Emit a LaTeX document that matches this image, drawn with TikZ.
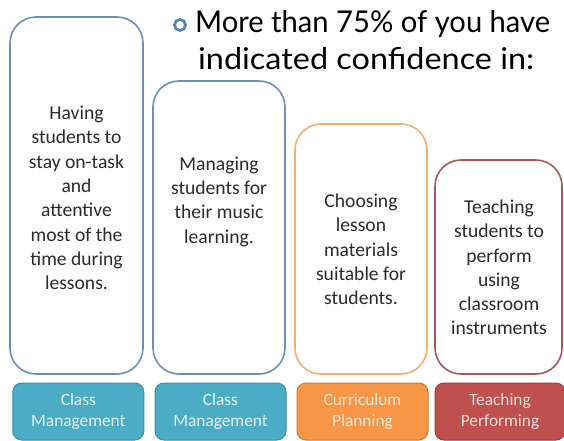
\documentclass[tikz,border=0pt]{standalone}
\usepackage{fontspec}
\setmainfont{Carlito}
\newfontfamily\titlefont{Lato}
\definecolor{blueline}{HTML}{6D8FBF}
\definecolor{orangeline}{HTML}{F5AE6E}
\definecolor{redline}{HTML}{A8585C}
\definecolor{aqua}{HTML}{4BACC6}
\definecolor{aquadark}{HTML}{3B8FA8}
\definecolor{orangefill}{HTML}{F79646}
\definecolor{orangedark}{HTML}{D47A33}
\definecolor{redfill}{HTML}{C0504D}
\definecolor{reddark}{HTML}{9E3E3B}
\definecolor{bulletblue}{HTML}{5B85B8}
\definecolor{bodytext}{HTML}{2B2B2B}
\begin{document}
\begin{tikzpicture}[x=1pt,y=-1pt,
  card/.style={draw, line width=1.6pt, rounded corners=26pt, fill=white, inner sep=0pt},
  tag/.style={draw, line width=1pt, rounded corners=9pt, inner sep=0pt,
    minimum height=57pt, align=center,
    font=\fontsize{17.3}{21.5}\selectfont},
  body/.style={align=center, text=bodytext, inner sep=0pt,
    font=\fontsize{19.6}{24.3}\selectfont},
  headline/.style={anchor=base west, inner sep=0pt, text=black,
    font=\titlefont\fontsize{30}{37}\selectfont}]
\useasboundingbox (0,0) rectangle (564,441);
\fill[white] (0,0) rectangle (564,441);
% cards
\node[card, draw=blueline, minimum width=133pt, minimum height=357pt] (b1) at (76.5,195.5) {};
\node[card, draw=blueline, minimum width=132pt, minimum height=293pt] (b2) at (219,227.5) {};
\node[card, draw=orangeline, minimum width=132pt, minimum height=250pt] (b3) at (361,249) {};
\node[card, draw=redline, minimum width=127pt, minimum height=214pt] (b4) at (498.5,267) {};
% card texts
\node[body] (t1) at (76.5,198) {Having\\students to\\stay on-task\\and\\attentive\\most of the\\time during\\lessons.};
\node[body] (t2) at (219,201.5) {Managing\\students for\\their music\\learning.};
\node[body] (t3) at (361,249.5) {Choosing\\lesson\\materials\\suitable for\\students.};
\node[body] (t4) at (499,267.5) {Teaching\\students to\\perform\\using\\classroom\\instruments};
% tags
\node[tag, fill=aqua, draw=aquadark, text=white!85!aqua, minimum width=131pt] (l1) at (78.3,411.5) {Class\\Management};
\node[tag, fill=aqua, draw=aquadark, text=white!85!aqua, minimum width=131pt] (l2) at (220.5,411.5) {Class\\Management};
\node[tag, fill=orangefill, draw=orangedark, text=white!80!orangefill, minimum width=131pt] (l3) at (362.5,411.5) {Curriculum\\Planning};
\node[tag, fill=redfill, draw=reddark, text=white!82!redfill, minimum width=130pt] (l4) at (500,411.5) {Teaching\\Performing};
% title
\node[circle, draw=bulletblue, line width=2.8pt, minimum size=11pt, inner sep=0pt] (bul) at (180,25) {};
\node[headline] (h1) at (195,33) {\scalebox{0.972}[1]{More than 75\% of you have}};
\node[headline] (h2) at (198,70) {\scalebox{1.08}[1]{indicated confidence in:}};
\end{tikzpicture}
\end{document}
